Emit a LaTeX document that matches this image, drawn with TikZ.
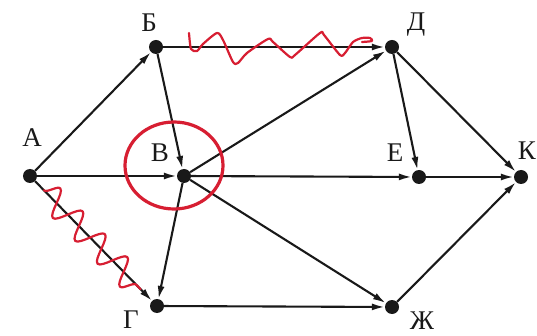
\documentclass[tikz,border=0pt]{standalone}
\usepackage{fontspec}
\setmainfont{Liberation Serif}
\usetikzlibrary{arrows.meta,calc,decorations.pathmorphing}
\definecolor{ink}{RGB}{25,25,25}
\definecolor{redmark}{RGB}{215,30,50}
\begin{document}
\begin{tikzpicture}[x=1pt,y=-1pt,
  dot/.style={circle,fill=ink,inner sep=0pt,minimum size=14pt},
  lab/.style={font=\fontsize{27}{27}\selectfont, inner sep=0pt, text=ink},
  edge/.style={draw=ink, line width=2.1pt, -{Latex[length=13pt,width=7pt]}},
  redline/.style={draw=redmark, line width=2.2pt, line join=round, line cap=round}]
\useasboundingbox (0,0) rectangle (537,336);
% vertices
\node[dot] (A) at (30,176) {};
\node[dot] (B) at (156,47) {};
\node[dot] (D) at (392,47) {};
\node[dot] (V) at (184,176) {};
\node[dot] (E) at (419,177) {};
\node[dot] (K) at (521,177) {};
\node[dot] (G) at (157,306) {};
\node[dot] (Zh) at (392,307) {};
% labels
\node[lab] (lA) at (32,138) {А};
\node[lab] (lB) at (149,23) {Б};
\node[lab] (lD) at (416,25) {Д};
\node[lab] (lV) at (160,153) {В};
\node[lab] (lE) at (395,153) {Е};
\node[lab,anchor=east] (lK) at (536,151) {К};
\node[lab] (lG) at (131,320) {Г};
\node[lab] (lZh) at (422,321) {Ж};
% edges
\draw[edge] (A) -- (B);
\draw[edge] (A) -- (V);
\draw[edge] (A) -- (G);
\draw[edge] (B) -- (D);
\draw[edge] (B) -- (V);
\draw[edge] (V) -- (D);
\draw[edge] (V) -- (E);
\draw[edge] (V) -- (Zh);
\draw[edge] (V) -- (G);
\draw[edge] (D) -- (E);
\draw[edge] (D) -- (K);
\draw[edge] (E) -- (K);
\draw[edge] (G) -- (Zh);
\draw[edge] (Zh) -- (K);
% red marks
\draw[redline, line width=3.2pt] (174,165.5) ellipse [x radius=49, y radius=43.5];
\draw[redline] plot[smooth, tension=0.45] coordinates {
  (189,33) (191,49) (197,51) (203,44) (217,33) (223,40) (233,62) (238,63)
  (247,53) (268,39) (273,42) (290,57) (295,55) (320,33) (324,35) (340,55)
  (345,53) (353,42) (362,38) (370,38) (372,41) (362,42)};
\draw[redline, decorate, decoration={snake, segment length=32pt, amplitude=13pt}]
  ($(A)!0.11!(G)$) -- ($(A)!0.87!(G)$);
\end{tikzpicture}
\end{document}
